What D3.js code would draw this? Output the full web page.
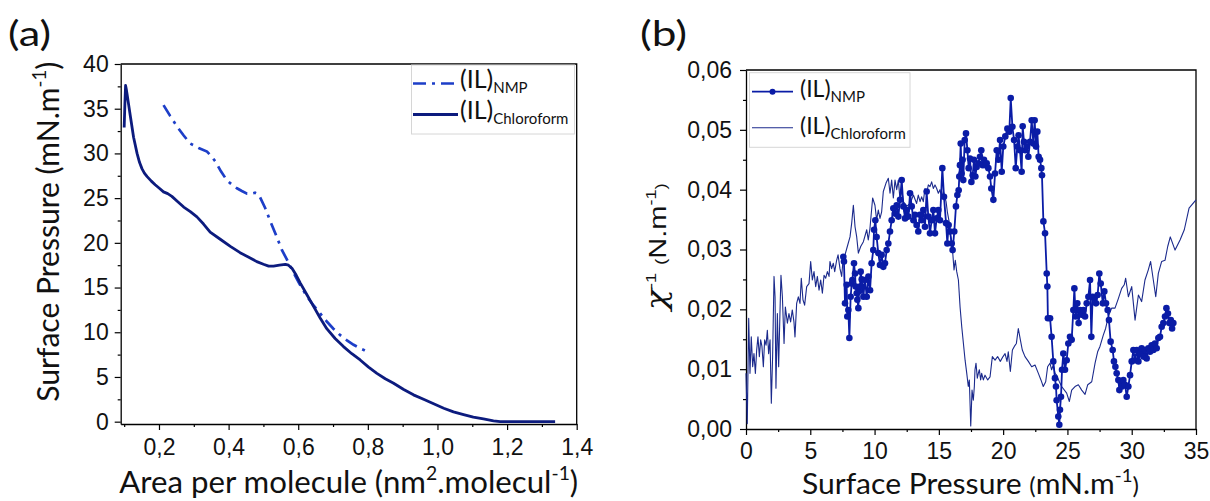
<!DOCTYPE html>
<html><head><meta charset="utf-8">
<script src="https://cdn.jsdelivr.net/npm/d3@7"></script>
<style>body{margin:0;background:#fff} svg{display:block}</style>
</head><body>
<svg id="c" width="1210" height="501"></svg>
<script>
// ---------- DATA ----------
const aXTicks = [0.2,0.4,0.6,0.8,1.0,1.2,1.4];
const aXMinor = [0.1,0.3,0.5,0.7,0.9,1.1,1.3];
const aYTicks = [0,5,10,15,20,25,30,35,40];
const aYMinor = [2.5,7.5,12.5,17.5,22.5,27.5,32.5,37.5];
const bXTicks = [0,5,10,15,20,25,30,35];
const bXMinor = [2.5,7.5,12.5,17.5,22.5,27.5,32.5];
const bYTicks = [0,0.01,0.02,0.03,0.04,0.05,0.06];
const bYMinor = [0.005,0.015,0.025,0.035,0.045,0.055];

const seriesNames = ["NMP","Chloroform"];

const aChloroX = [0.100,0.102,0.104,0.106,0.108,0.113,0.118,0.127,0.137,0.144,0.151,0.158,0.166,0.178,0.189,0.201,0.213,0.225,0.237,0.254,0.271,0.290,0.309,0.328,0.347,0.376,0.405,0.433,0.462,0.481,0.500,0.515,0.529,0.546,0.563,0.572,0.582,0.594,0.606,0.625,0.644,0.663,0.682,0.706,0.730,0.754,0.778,0.802,0.826,0.850,0.874,0.903,0.931,0.960,0.989,1.018,1.046,1.075,1.103,1.132,1.161,1.180,1.250,1.338];
const aChloroY = [32.9,35.5,37.6,37.2,36.7,35.4,34.1,31.8,30.0,29.0,28.3,27.8,27.4,26.9,26.5,26.1,25.7,25.5,25.2,24.6,24.0,23.5,22.9,22.1,21.2,20.4,19.6,18.9,18.3,17.9,17.6,17.4,17.4,17.5,17.6,17.5,17.15,16.4,15.5,14.2,12.9,11.6,10.4,9.3,8.4,7.6,6.9,6.1,5.4,4.8,4.3,3.6,3.0,2.5,2.0,1.5,1.1,0.8,0.5,0.3,0.1,0.0,0.0,0.0];

const aNmpX = [0.213,0.232,0.252,0.271,0.290,0.314,0.338,0.350,0.362,0.378,0.395,0.410,0.424,0.438,0.453,0.465,0.476,0.482,0.489,0.505,0.520,0.537,0.553,0.568,0.582,0.604,0.625,0.644,0.663,0.682,0.701,0.720,0.740,0.759,0.778,0.790,0.802];
const aNmpY = [35.4,34.2,33.0,32.0,31.1,30.6,30.2,29.7,29.1,28.0,27.0,26.5,26.1,25.8,25.5,25.5,25.6,25.5,25.2,23.9,22.4,20.8,19.2,18.1,17.0,15.4,14.0,13.0,12.1,11.2,10.4,9.7,9.1,8.6,8.2,8.0,7.8];

const bChloroX = [0,0.10,0.21,0.31,0.41,0.52,0.62,0.73,0.83,0.93,1.04,1.14,1.24,1.35,1.45,1.56,1.66,1.76,1.87,1.97,2.07,2.18,2.26,2.33,2.44,2.54,2.64,2.72,2.83,2.96,3.06,3.22,3.34,3.47,3.60,3.73,3.81,3.94,4.07,4.20,4.30,4.43,4.56,4.72,4.90,5.03,5.16,5.29,5.42,5.55,5.68,5.81,5.94,6.07,6.20,6.33,6.46,6.53,6.66,6.79,6.90,7.05,7.16,7.31,7.44,7.57,7.70,7.88,8.09,8.22,8.35,8.48,8.61,8.74,8.92,9.13,9.39,9.51,9.64,9.85,10.03,10.16,10.29,10.42,10.55,10.68,10.89,11.07,11.20,11.33,11.46,11.59,11.72,11.85,11.98,12.11,12.24,12.50,12.76,13.02,13.27,13.40,13.54,13.66,13.79,13.92,14.05,14.18,14.31,14.44,14.57,14.70,14.83,14.96,15.09,15.22,15.35,15.56,15.66,15.82,15.92,16.08,16.18,16.28,16.39,16.52,16.65,16.78,16.91,17.04,17.17,17.29,17.37,17.48,17.58,17.68,17.76,17.81,17.89,17.99,18.07,18.15,18.25,18.33,18.46,18.59,18.80,18.98,19.16,19.37,19.57,19.78,19.99,20.15,20.30,20.40,20.56,20.72,20.87,21.03,21.18,21.34,21.49,21.70,21.96,22.22,22.48,22.74,22.94,23.12,23.31,23.46,23.64,23.77,23.90,24.03,24.16,24.35,24.55,24.94,25.15,25.33,25.59,25.85,26.11,26.37,26.58,26.89,27.15,27.35,27.53,27.79,27.97,28.18,28.44,28.70,28.96,29.22,29.42,29.53,29.74,30.00,30.26,30.52,30.77,31.03,31.29,31.47,31.68,31.87,32.07,32.33,32.59,32.80,33.00,33.37,33.76,34.09,34.46,35.00];
const bChloroY = [0.0093,0.0009,0.0185,0.0093,0.0154,0.0104,0.0126,0.0093,0.0132,0.0154,0.0121,0.0149,0.0138,0.0104,0.0149,0.0140,0.0165,0.0126,0.0149,0.0043,0.0121,0.0255,0.0221,0.0068,0.0193,0.0104,0.0193,0.0257,0.0221,0.0143,0.0204,0.0177,0.0193,0.0179,0.0199,0.0179,0.0154,0.0210,0.0221,0.0210,0.0252,0.0216,0.0207,0.0238,0.0243,0.0280,0.0249,0.0263,0.0238,0.0255,0.0232,0.0249,0.0227,0.0257,0.0252,0.0263,0.0255,0.0280,0.0268,0.0277,0.0263,0.0282,0.0291,0.0268,0.0255,0.0288,0.0291,0.0305,0.0321,0.0344,0.0374,0.0338,0.0321,0.0294,0.0305,0.0313,0.0333,0.0316,0.0335,0.0386,0.0374,0.0349,0.0366,0.0352,0.0363,0.0397,0.0411,0.0419,0.0394,0.0416,0.0386,0.0416,0.0400,0.0416,0.0383,0.0400,0.0380,0.0372,0.0377,0.0391,0.0377,0.0391,0.0380,0.0388,0.0380,0.0402,0.0394,0.0408,0.0405,0.0413,0.0402,0.0408,0.0402,0.0394,0.0400,0.0386,0.0397,0.0380,0.0363,0.0344,0.0321,0.0294,0.0266,0.0282,0.0263,0.0249,0.0204,0.0171,0.0143,0.0115,0.0093,0.0071,0.0082,0.0005,0.0065,0.0048,0.0071,0.0099,0.0110,0.0085,0.0093,0.0099,0.0082,0.0093,0.0082,0.0090,0.0082,0.0087,0.0121,0.0115,0.0121,0.0113,0.0121,0.0126,0.0113,0.0129,0.0096,0.0132,0.0138,0.0143,0.0168,0.0149,0.0132,0.0121,0.0113,0.0104,0.0107,0.0093,0.0082,0.0071,0.0079,0.0104,0.0110,0.0099,0.0107,0.0093,0.0090,0.0080,0.0071,0.0060,0.0046,0.0065,0.0071,0.0074,0.0065,0.0058,0.0074,0.0079,0.0110,0.0129,0.0138,0.0157,0.0168,0.0188,0.0202,0.0202,0.0218,0.0235,0.0241,0.0252,0.0221,0.0238,0.0182,0.0224,0.0213,0.0249,0.0266,0.0280,0.0249,0.0221,0.0260,0.0280,0.0282,0.0305,0.0321,0.0299,0.0316,0.0333,0.0369,0.0383];

const bNmpX = [7.57,7.62,7.70,7.83,7.88,7.96,8.04,8.14,8.22,8.27,8.40,8.48,8.53,8.61,8.66,8.74,8.79,8.87,8.92,9.00,9.05,9.13,9.25,9.39,9.52,9.65,9.77,9.90,9.96,10.06,10.16,10.29,10.42,10.55,10.68,10.81,10.94,11.07,11.20,11.33,11.46,11.58,11.72,11.85,11.98,12.11,12.24,12.37,12.50,12.63,12.76,12.89,13.02,13.14,13.27,13.40,13.53,13.66,13.79,13.92,14.05,14.18,14.31,14.44,14.57,14.70,14.83,14.96,15.09,15.27,15.40,15.56,15.66,15.76,15.87,16.00,16.07,16.20,16.33,16.44,16.54,16.59,16.64,16.70,16.77,16.85,16.90,17.01,17.11,17.22,17.32,17.42,17.53,17.63,17.73,17.84,17.94,18.07,18.20,18.30,18.41,18.51,18.62,18.72,18.85,18.98,19.08,19.24,19.37,19.50,19.63,19.76,19.89,20.01,20.17,20.33,20.48,20.59,20.72,20.85,20.98,21.10,21.20,21.31,21.44,21.52,21.62,21.72,21.83,21.96,22.09,22.22,22.35,22.45,22.56,22.66,22.76,22.87,22.97,23.02,23.13,23.26,23.39,23.44,23.48,23.65,23.77,23.90,24.03,24.11,24.16,24.29,24.37,24.42,24.50,24.58,24.68,24.81,24.94,25.07,25.20,25.33,25.46,25.54,25.64,25.77,25.87,25.98,26.11,26.24,26.37,26.50,26.63,26.76,26.86,26.96,27.09,27.22,27.35,27.48,27.59,27.75,27.87,28.00,28.13,28.23,28.36,28.52,28.62,28.73,28.83,28.96,29.04,29.14,29.25,29.35,29.48,29.61,29.74,29.87,30.00,30.13,30.26,30.39,30.52,30.65,30.77,30.91,31.03,31.16,31.29,31.42,31.55,31.68,31.81,31.94,32.07,32.20,32.33,32.46,32.59,32.70,32.82,32.93,33.04,33.14,33.24];
const bNmpY = [0.0288,0.0280,0.0210,0.0241,0.0188,0.0199,0.0152,0.0221,0.0243,0.0249,0.0277,0.0260,0.0238,0.0227,0.0216,0.0202,0.0230,0.0238,0.0263,0.0250,0.0238,0.0221,0.0249,0.0221,0.0255,0.0232,0.0277,0.0299,0.0333,0.0349,0.0321,0.0294,0.0274,0.0291,0.0271,0.0277,0.0299,0.0310,0.0330,0.0349,0.0369,0.0360,0.0374,0.0355,0.0383,0.0416,0.0372,0.0352,0.0366,0.0355,0.0394,0.0372,0.0349,0.0358,0.0341,0.0330,0.0358,0.0349,0.0366,0.0338,0.0397,0.0355,0.0327,0.0349,0.0366,0.0327,0.0352,0.0366,0.0349,0.0436,0.0388,0.0344,0.0310,0.0341,0.0330,0.0310,0.0299,0.0330,0.0372,0.0391,0.0399,0.0422,0.0441,0.0477,0.0427,0.0450,0.0416,0.0483,0.0494,0.0466,0.0436,0.0452,0.0413,0.0424,0.0450,0.0422,0.0438,0.0444,0.0455,0.0466,0.0441,0.0450,0.0441,0.0444,0.0436,0.0422,0.0402,0.0383,0.0427,0.0466,0.0450,0.0483,0.0430,0.0472,0.0489,0.0502,0.0497,0.0553,0.0505,0.0483,0.0436,0.0472,0.0491,0.0466,0.0430,0.0506,0.0480,0.0466,0.0472,0.0455,0.0480,0.0516,0.0477,0.0516,0.0472,0.0497,0.0455,0.0450,0.0436,0.0424,0.0347,0.0327,0.0260,0.0238,0.0185,0.0185,0.0154,0.0113,0.0085,0.0071,0.0048,0.0021,0.0007,0.0032,0.0054,0.0099,0.0126,0.0099,0.0115,0.0143,0.0154,0.0149,0.0199,0.0235,0.0188,0.0210,0.0177,0.0199,0.0191,0.0199,0.0188,0.0210,0.0221,0.0249,0.0154,0.0221,0.0218,0.0210,0.0224,0.0260,0.0243,0.0210,0.0230,0.0210,0.0199,0.0182,0.0146,0.0132,0.0113,0.0104,0.0093,0.0082,0.0065,0.0079,0.0071,0.0082,0.0074,0.0054,0.0071,0.0090,0.0113,0.0132,0.0115,0.0132,0.0113,0.0126,0.0135,0.0121,0.0132,0.0118,0.0135,0.0129,0.0140,0.0132,0.0143,0.0135,0.0152,0.0154,0.0171,0.0177,0.0188,0.0202,0.0193,0.0177,0.0182,0.0168,0.0177];

// ---------- DRAWING ----------
const svg = d3.select("#c");
const loc = d3.formatLocale({decimal:",", thousands:".", grouping:[3], currency:["",""]});
const fa = loc.format(".1f"), fb = loc.format(".2f"), fi = d3.format("d");
const TICKFONT = "'Liberation Sans', Arial, sans-serif";
const TITLEFONT = "Lato, 'Open Sans', sans-serif";

function zip(xs, ys){ return xs.map((x,i)=>[x, ys[i]]); }

function axes(g, x, y, xt, xm, yt, ym, fx, fy, ypad, xpad){
  const [x0,x1] = x.range(), [y0,y1] = y.range();
  g.append("g").attr("transform",`translate(0,${y0})`)
    .call(d3.axisBottom(x).tickValues(xt).tickFormat(fx).tickSize(6).tickSizeOuter(0).tickPadding(xpad));
  g.append("g").attr("transform",`translate(0,${y0})`)
    .call(d3.axisBottom(x).tickValues(xm).tickFormat("").tickSize(3).tickSizeOuter(0))
    .select(".domain").remove();
  g.append("g").attr("transform",`translate(${x0},0)`)
    .call(d3.axisLeft(y).tickValues(yt).tickFormat(fy).tickSize(6).tickSizeOuter(0).tickPadding(ypad));
  g.append("g").attr("transform",`translate(${x0},0)`)
    .call(d3.axisLeft(y).tickValues(ym).tickFormat("").tickSize(3).tickSizeOuter(0))
    .select(".domain").remove();
  g.selectAll(".tick line").attr("stroke","#000").attr("stroke-width",1.2);
  g.selectAll(".domain").attr("stroke","#000").attr("stroke-width",1.3);
  g.selectAll(".tick text").attr("font-family",TICKFONT).attr("font-size",23).attr("fill","#111");
  g.append("path").attr("d",`M${x0},${y1}H${x1}V${y0}`).attr("fill","none").attr("stroke","#000").attr("stroke-width",1.3);
}

// parts: [text, isSuperscript, sizeFactor, family]
function supText(g, x, y, rot, size, parts, len, family){
  const t = g.append("text").attr("transform",`translate(${x},${y}) rotate(${rot})`)
    .attr("text-anchor","middle").attr("font-family",family||TITLEFONT).attr("font-size",size).attr("fill","#111");
  let shift = 0;
  parts.forEach(p=>{
    const s = t.append("tspan").text(p[0]);
    const target = p[1] ? -size*0.42 : 0;
    s.attr("dy", target - shift); shift = target;
    if(p[1]) s.attr("font-size", size*0.62);
    else if(p[2]) s.attr("font-size", size*p[2]);
    if(p[3]) s.attr("font-family", p[3]).attr("font-style","italic");
  });
  if(len) t.attr("textLength",len).attr("lengthAdjust","spacingAndGlyphs");
  return t;
}

function legText(g, x, y, sub, size, subSize){
  const t = g.append("text").attr("x",x).attr("y",y).attr("font-family",TITLEFONT)
    .attr("font-size",size).attr("fill","#111");
  t.append("tspan").text("(IL)");
  t.append("tspan").text(sub).attr("font-size",subSize).attr("dy",5);
}

// ----- Panel (a) -----
const gA = svg.append("g");
const xA = d3.scaleLinear().domain([0.09,1.4]).range([120.7,576.7]);
const yA = d3.scaleLinear().domain([-0.26,40]).range([424,64]);
axes(gA, xA, yA, aXTicks, aXMinor, aYTicks, aYMinor, fa, fi, 6, 9);

const lineA = d3.line().x(d=>xA(d[0])).y(d=>yA(d[1]));
const colANmp = "#1d3ec8", colAChl = "#0c1b7e";
gA.append("path").datum(zip(aNmpX,aNmpY)).attr("d",lineA).attr("fill","none")
  .attr("stroke",colANmp).attr("stroke-width",2.7).attr("stroke-dasharray","13,6,3,6");
gA.append("path").datum(zip(aChloroX,aChloroY)).attr("d",lineA).attr("fill","none")
  .attr("stroke",colAChl).attr("stroke-width",2.8).attr("stroke-linejoin","round");

// legend a
gA.append("rect").attr("x",411.5).attr("y",65).attr("width",163).attr("height",69)
  .attr("fill","#fff").attr("stroke","#d6d6d6").attr("stroke-width",1);
gA.append("line").attr("x1",413).attr("x2",458).attr("y1",83.5).attr("y2",83.5)
  .attr("stroke",colANmp).attr("stroke-width",2.7).attr("stroke-dasharray","13,6,3,6");
gA.append("line").attr("x1",413).attr("x2",458).attr("y1",114.5).attr("y2",114.5)
  .attr("stroke",colAChl).attr("stroke-width",2.8);
legText(gA, 460, 88, seriesNames[0], 25, 15);
legText(gA, 460, 119, seriesNames[1], 25, 15);

// titles a
gA.append("text").attr("x",8).attr("y",46).attr("font-family",TITLEFONT).attr("font-size",35)
  .attr("textLength",43).attr("lengthAdjust","spacingAndGlyphs").attr("fill","#111").text("(a)");
supText(gA, 348.7, 493, 0, 30, [["Area per molecule (nm"],["2",1],[".molecul"],["-1",1],[")"]], 459);
supText(gA, 59, 231.7, -90, 30, [["Surface Pressure (mN.m"],["-1",1],[")"]], 340);

// ----- Panel (b) -----
const gB = svg.append("g");
const xB = d3.scaleLinear().domain([0,35]).range([746,1196]);
const yB = d3.scaleLinear().domain([0,0.06]).range([429,70]);
axes(gB, xB, yB, bXTicks, bXMinor, bYTicks, bYMinor, fi, fb, 8, 8);

const lineB = d3.line().x(d=>xB(d[0])).y(d=>yB(d[1]));
const colBNmp = "#0a1ca6", colBChl = "#1b2a8c";
gB.append("path").datum(zip(bChloroX,bChloroY)).attr("d",lineB).attr("fill","none")
  .attr("stroke",colBChl).attr("stroke-width",1.1).attr("stroke-linejoin","round");
gB.append("path").datum(zip(bNmpX,bNmpY)).attr("d",lineB).attr("fill","none")
  .attr("stroke",colBNmp).attr("stroke-width",1.8).attr("stroke-linejoin","round");
gB.selectAll("circle.nmp").data(zip(bNmpX,bNmpY)).join("circle").attr("class","nmp")
  .attr("cx",d=>xB(d[0])).attr("cy",d=>yB(d[1])).attr("r",3.3).attr("fill",colBNmp);

// legend b
gB.append("rect").attr("x",749.5).attr("y",72.7).attr("width",160.5).attr("height",74.6)
  .attr("fill","#fff").attr("stroke","#d6d6d6").attr("stroke-width",1);
gB.append("line").attr("x1",752).attr("x2",793).attr("y1",91.7).attr("y2",91.7)
  .attr("stroke",colBNmp).attr("stroke-width",1.8);
gB.append("circle").attr("cx",772.5).attr("cy",91.7).attr("r",3).attr("fill",colBNmp);
gB.append("line").attr("x1",752).attr("x2",793).attr("y1",127.7).attr("y2",127.7)
  .attr("stroke",colBChl).attr("stroke-width",1.1);
legText(gB, 800, 97, seriesNames[0], 23, 15);
legText(gB, 800, 134, seriesNames[1], 23, 15);

// titles b
gB.append("text").attr("x",640).attr("y",46).attr("font-family",TITLEFONT).attr("font-size",35)
  .attr("textLength",47).attr("lengthAdjust","spacingAndGlyphs").attr("fill","#111").text("(b)");
supText(gB, 970.5, 494, 0, 28, [["Surface Pressure "],["(",0,0.8],["mN.m"],["-1",1],[")",0,0.8]], 337);
supText(gB, 666, 246.7, -90, 23, [["\u03C7",0,1.2,"'DejaVu Serif', serif"],["-1",1],[" "],["(",0,0.65],["N.m"],["-1",1],[")",0,0.65]], 127, TICKFONT);
</script>
</body></html>
